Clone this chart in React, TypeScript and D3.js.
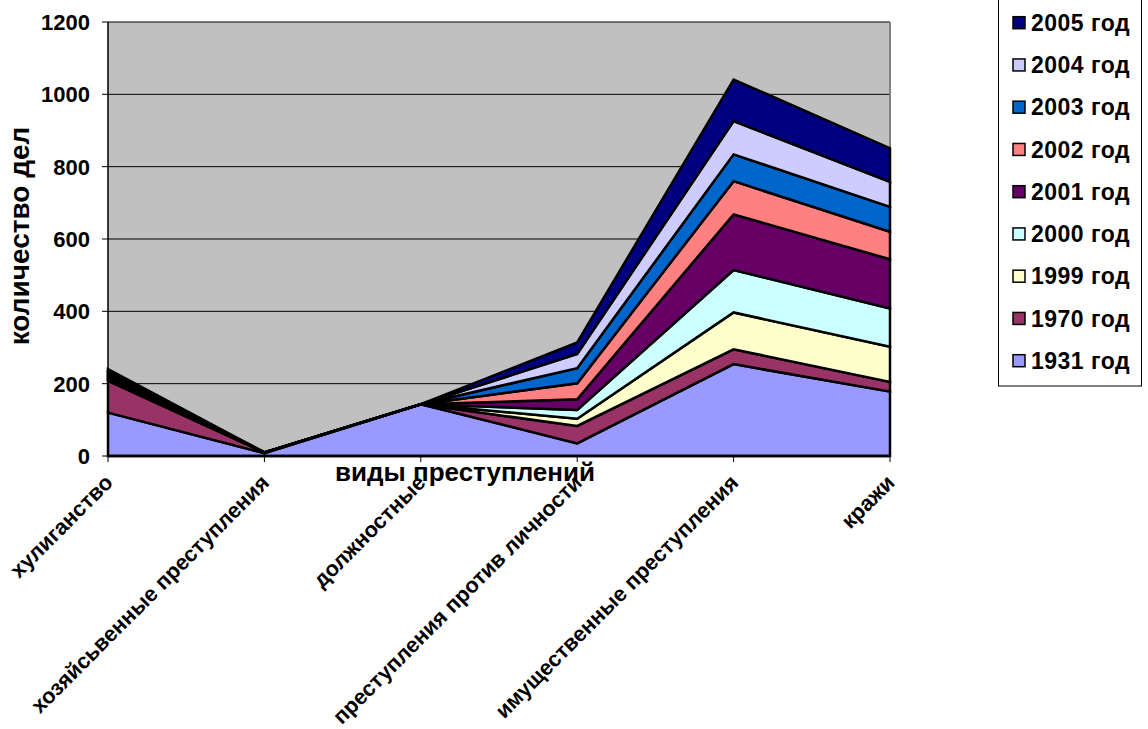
import React from 'react';
import * as d3 from 'd3';

const categories = [
  'хулиганство',
  'хозяйсьвенные преступления',
  'должностные',
  'преступления против личности',
  'имущественные преступления',
  'кражи',
];

const years = ['1931 год', '1970 год', '1999 год', '2000 год', '2001 год', '2002 год', '2003 год', '2004 год', '2005 год'];
const colors = ['#9999ff', '#993366', '#ffffcc', '#ccffff', '#660066', '#ff8080', '#0066cc', '#ccccff', '#000080'];

// values per year, one per category
const v1931 = [120, 8, 143, 35, 254, 178];
const v1970 = [88, 2, 0, 48, 41, 27];
const v1999 = [3, 0, 0, 20, 102, 97];
const v2000 = [4, 0, 0, 24, 117, 106];
const v2001 = [5, 0, 0, 30, 154, 136];
const v2002 = [5, 0, 0, 44, 92, 76];
const v2003 = [5, 0, 0, 42, 74, 69];
const v2004 = [4, 0, 0, 39, 92, 69];
const v2005 = [6, 0, 0, 32, 115, 93];
const series = [v1931, v1970, v1999, v2000, v2001, v2002, v2003, v2004, v2005];

const yTicks = [0, 200, 400, 600, 800, 1000, 1200];

const W = 1148;
const H = 729;
const left = 108;
const right = 890;
const top = 22;
const bottom = 456;
const font = 'Liberation Sans, Arial, sans-serif';

export default function App() {
  const rows = categories.map((c, i) => {
    const r: Record<string, number | string> = { cat: c };
    years.forEach((y, k) => (r[y] = series[k][i]));
    return r;
  });
  const stacked = d3.stack<any>().keys(years)(rows);

  const x = d3.scalePoint<string>().domain(categories).range([left, right]);
  const y = d3.scaleLinear().domain([0, 1200]).range([bottom, top]);

  const area = d3
    .area<any>()
    .x((d) => x(d.data.cat) as number)
    .y0((d) => y(d[0]))
    .y1((d) => y(d[1]));

  const legendItems = years.slice().reverse();

  return (
    <svg width={W} height={H} style={{ position: 'absolute', left: 0, top: 0 }} fontFamily={font} fontWeight="bold">
      <rect x={left} y={top} width={right - left} height={bottom - top} fill="#c0c0c0" />
      {yTicks.slice(1).map((t) => (
        <line key={t} x1={left} x2={right} y1={y(t)} y2={y(t)} stroke="#000" strokeWidth={1} />
      ))}
      <line x1={right} x2={right} y1={top} y2={bottom} stroke="#808080" strokeWidth={2} />

      {stacked.map((s, k) => (
        <path key={s.key} d={area(s) as string} fill={colors[k]} stroke="#000" strokeWidth={2.5} strokeLinejoin="miter" />
      ))}

      {/* y axis */}
      <line x1={left} x2={left} y1={top} y2={bottom} stroke="#000" strokeWidth={1.5} />
      {yTicks.map((t) => (
        <g key={t}>
          <line x1={left - 6} x2={left} y1={y(t)} y2={y(t)} stroke="#000" />
          <text x={left - 18} y={y(t)} dy="0.36em" textAnchor="end" fontSize={22}>
            {t}
          </text>
        </g>
      ))}
      <text transform={`translate(29,236) rotate(-90)`} textAnchor="middle" fontSize={28}>
        количество дел
      </text>

      {/* x axis */}
      <line x1={left} x2={right} y1={bottom} y2={bottom} stroke="#000" strokeWidth={2.5} />
      {categories.map((c) => (
        <g key={c}>
          <line x1={x(c)} x2={x(c)} y1={bottom} y2={bottom + 6} stroke="#000" />
          <text
            transform={`translate(${(x(c) as number) + 6},${bottom + 28}) rotate(-45)`}
            textAnchor="end"
            fontSize={21.7}
          >
            {c}
          </text>
        </g>
      ))}
      <text x={465} y={481} textAnchor="middle" fontSize={26}>
        виды преступлений
      </text>

      {/* legend */}
      <rect x={998.5} y={-5} width={143} height={391} fill="#fff" stroke="#000" strokeWidth={1} />
      {legendItems.map((name, i) => {
        const k = years.length - 1 - i;
        const cy = 22.7 + i * 42.25;
        return (
          <g key={name}>
            <rect x={1013} y={cy - 6} width={12} height={12} fill={colors[k]} stroke="#000" strokeWidth={1.5} />
            <text x={1031} y={cy} dy="0.36em" fontSize={23} letterSpacing={0.5}>
              {name}
            </text>
          </g>
        );
      })}
    </svg>
  );
}
